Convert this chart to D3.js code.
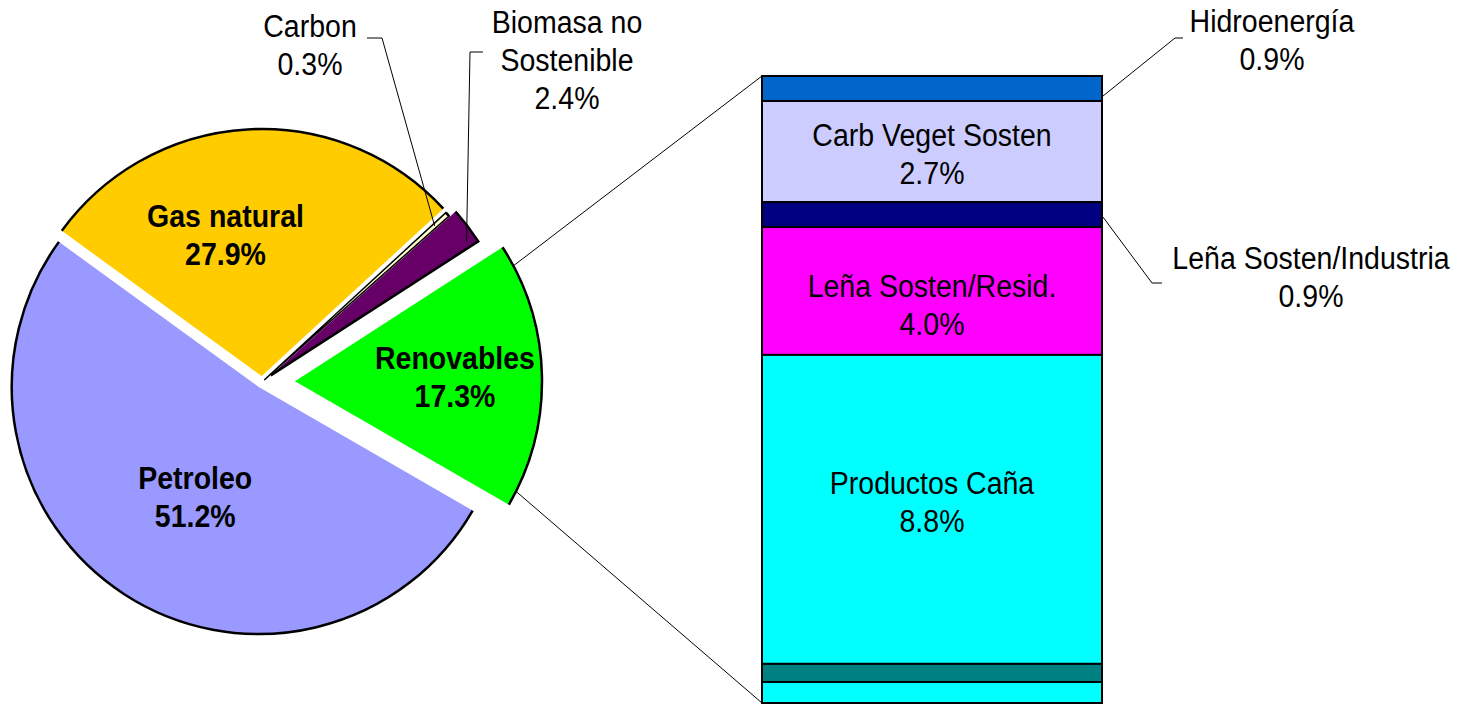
<!DOCTYPE html>
<html>
<head>
<meta charset="utf-8">
<script src="https://cdn.jsdelivr.net/npm/d3@7"></script>
<style>
  body { margin: 0; background: #fff; }
  svg { display: block; }
  text { font-family: "Liberation Sans", Arial, sans-serif; fill: #000; }
</style>
</head>
<body>
<svg id="chart" width="1473" height="704"></svg>
<script>
// pie slices (percent of total)
const pieNames = ['Petroleo', 'Gas natural', 'Carbon', 'Biomasa no Sostenible', 'Renovables'];
const pieValues = [51.2, 27.9, 0.3, 2.4, 17.3];
const pieLabels = ['51.2%', '27.9%', '0.3%', '2.4%', '17.3%'];

// bar of "Renovables" (segment sizes, labels as printed)
const barNames = ['Hidroenergía', 'Carb Veget Sosten', 'Leña Sosten/Industria', 'Leña Sosten/Resid.', 'Productos Caña', '', ''];
const barValues = [0.69, 2.79, 0.69, 3.53, 8.53, 0.5, 0.58];
const barLabels = ['0.9%', '2.7%', '0.9%', '4.0%', '8.8%', '', ''];

const pieColors = ['#9999FF', '#FFCC00', '#FFFFCC', '#660066', '#00FF00'];
const barColors = ['#0066CC', '#CCCCFF', '#000080', '#FF00FF', '#00FFFF', '#008080', '#00FFFF'];

const svg = d3.select('#chart');
const rad = Math.PI / 180;
const R = 247;
const center = { x: 262, y: 382 };
const explode = [6, 6, 3, 11, 33];
const fontSize = 31;
const lineH = 38;

const polar = (a, r) => [r * Math.sin(a), -r * Math.cos(a)];

// multi-line text centred on (x, yCenter), slightly condensed like the original
const addText = (x, yCenter, lines, bold) => {
  const top = yCenter - (lines.length - 1) * lineH / 2;
  lines.forEach((line, i) => {
    svg.append('text')
      .attr('transform', `translate(${x},${top + i * lineH + 11}) scale(0.92,1)`)
      .attr('text-anchor', 'middle')
      .style('font-size', `${fontSize}px`)
      .style('font-weight', bold ? 'bold' : 'normal')
      .text(line);
  });
};

const pie = d3.pie().sort(null)
  .startAngle(120 * rad)
  .endAngle(480 * rad);
const arcs = pie(pieValues);
const arcGen = d3.arc().innerRadius(0).outerRadius(R);

const vertex = arcs.map((d, i) => {
  const [dx, dy] = polar((d.startAngle + d.endAngle) / 2, explode[i]);
  return [center.x + dx, center.y + dy];
});

arcs.forEach((d, i) => {
  const g = svg.append('g').attr('transform', `translate(${vertex[i][0]},${vertex[i][1]})`);
  g.append('path')
    .attr('d', arcGen(d))
    .attr('fill', pieColors[i])
    .attr('stroke', i === 2 ? '#000' : 'none')
    .attr('stroke-width', 1.5);
  // black outline on the outer arc
  const p = d3.path();
  const [sx, sy] = polar(d.startAngle, R);
  p.moveTo(sx, sy);
  p.arc(0, 0, R, d.startAngle - Math.PI / 2, d.endAngle - Math.PI / 2);
  if (i === 3) p.lineTo(0, 0);
  g.append('path')
    .attr('d', p.toString())
    .attr('fill', 'none')
    .attr('stroke', '#000')
    .attr('stroke-width', 2.5);
});

// labels inside the pie
const inLabel = { 0: { r: 127, da: -3 }, 1: { r: 146, da: -11 }, 4: { r: 160, da: 0 } };
Object.keys(inLabel).forEach(k => {
  const i = +k;
  const d = arcs[i];
  const a = (d.startAngle + d.endAngle) / 2 + inLabel[k].da * rad;
  const [dx, dy] = polar(a, inLabel[k].r);
  addText(vertex[i][0] + dx, vertex[i][1] + dy, [pieNames[i], pieLabels[i]], true);
});

// outside labels with leaders
const leader = pts => svg.append('path')
  .attr('d', d3.line()(pts))
  .attr('fill', 'none')
  .attr('stroke', '#000')
  .attr('stroke-width', 1);

addText(310, 45, ['Carbon', pieLabels[2]], false);
{
  const d = arcs[2];
  const [dx, dy] = polar((d.startAngle + d.endAngle) / 2, R * 0.93);
  leader([[367, 38], [382, 38], [vertex[2][0] + dx, vertex[2][1] + dy]]);
}
addText(567, 60, ['Biomasa no', 'Sostenible', pieLabels[3]], false);
{
  const d = arcs[3];
  const [dx, dy] = polar(d.endAngle - 1.5 * rad, R * 0.96);
  leader([[483, 52], [470, 52], [vertex[3][0] + dx, vertex[3][1] + dy]]);
}

// bar of renovables
const barX0 = 762;
const barX1 = 1102;
const cum = [0, ...d3.cumsum(barValues)];
const y = d3.scaleLinear().domain([0, d3.sum(barValues)]).range([76, 703]);

svg.append('g').selectAll('rect')
  .data(barValues)
  .join('rect')
  .attr('x', barX0)
  .attr('width', barX1 - barX0)
  .attr('y', (d, i) => y(cum[i]))
  .attr('height', (d, i) => y(cum[i + 1]) - y(cum[i]))
  .attr('fill', (d, i) => barColors[i])
  .attr('stroke', '#000')
  .attr('stroke-width', 2);

// labels inside bar
const barNudge = [0, 2, 0, 14, -7];
[1, 3, 4].forEach(i => {
  const yc = (y(cum[i]) + y(cum[i + 1])) / 2 + barNudge[i];
  addText((barX0 + barX1) / 2, yc, [barNames[i], barLabels[i]], false);
});

// labels right of bar
addText(1272, 40, [barNames[0], barLabels[0]], false);
leader([[1183, 38], [1175, 38], [barX1 + 1, y(cum[0]) + 0.8 * (y(cum[1]) - y(cum[0]))]]);
addText(1311, 277, [barNames[2], barLabels[2]], false);
leader([[barX1 + 1, y(cum[2]) + 0.6 * (y(cum[3]) - y(cum[2]))], [1152, 283], [1162, 283]]);

// connector lines pie -> bar
{
  const d = arcs[4];
  const [tx, ty] = polar(d.startAngle + 5 * rad, R);
  const [bx, by] = polar(d.endAngle - 3.5 * rad, R);
  leader([[vertex[4][0] + tx, vertex[4][1] + ty], [barX0, y(0)]]);
  leader([[vertex[4][0] + bx, vertex[4][1] + by], [barX0, y(d3.sum(barValues))]]);
}
</script>
</body>
</html>
